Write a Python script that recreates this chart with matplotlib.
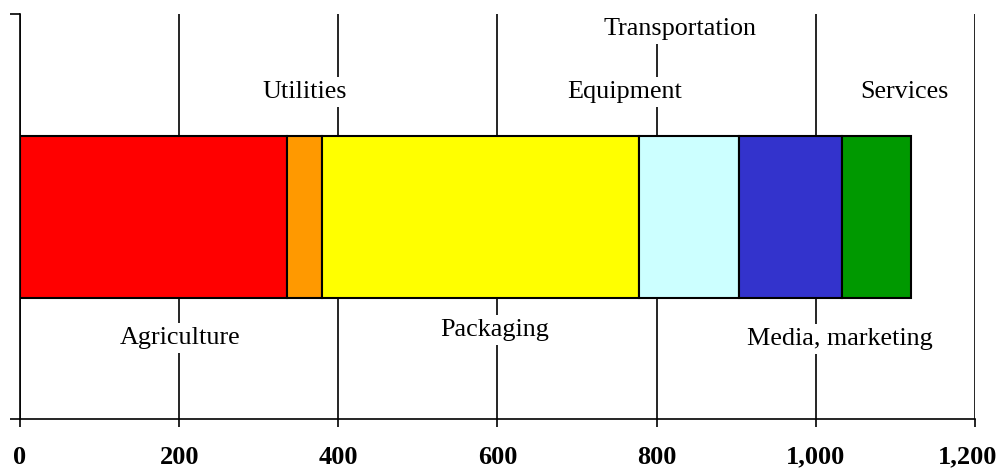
import matplotlib.pyplot as plt
import matplotlib.transforms as mtransforms
from matplotlib.ticker import FuncFormatter

# Segment values for the stacked bar (left to right).
segments = ['Agriculture', 'Utilities', 'Packaging', 'Equipment', 'Media, marketing', 'Services']
values = [335, 44, 399, 126, 129, 87]
colors = ['#FF0000', '#FF9900', '#FFFF00', '#CCFFFF', '#3333CC', '#009900']

# Text labels and where they sit (x in data units, y as axes fraction).
labels = ['Agriculture', 'Utilities', 'Packaging', 'Equipment', 'Transportation', 'Media, marketing', 'Services']
label_x = [201, 358, 596, 760, 829, 1030, 1112]
label_y = [0.200, 0.807, 0.220, 0.807, 0.963, 0.198, 0.807]

xticks = [0, 200, 400, 600, 800, 1000, 1200]

plt.rcParams['font.family'] = ['Liberation Serif', 'DejaVu Serif']

fig = plt.figure(figsize=(10.02, 4.71), dpi=100)
ax = fig.add_axes([0.02, 0.11, 0.953, 0.86])

# Stacked horizontal bar.
left = 0
for val, col in zip(values, colors):
    ax.barh(0.5, val, left=left, height=0.4, color=col, edgecolor='black', linewidth=1.5, zorder=3)
    left += val

# Labels with white boxes covering the gridlines.
for txt, lx, ly in zip(labels, label_x, label_y):
    ax.text(lx, ly, txt, transform=ax.get_xaxis_transform(), ha='center', va='center',
            fontsize=18.8, zorder=4,
            bbox=dict(facecolor='white', edgecolor='none', pad=3))

ax.set_xlim(0, 1200)
ax.set_ylim(0, 1)
ax.set_xticks(xticks)
ax.xaxis.set_major_formatter(FuncFormatter(lambda v, p: f'{int(v):,}'))
ax.set_yticks([0, 1])
ax.set_yticklabels([])
ax.tick_params(axis='x', direction='out', length=6, width=1.2, pad=13, labelsize=19)
ax.tick_params(axis='y', direction='out', length=7, width=1.2)
for lab in ax.get_xticklabels():
    lab.set_fontweight('bold')
# nudge the last tick label left so it stays inside the figure
last = ax.get_xticklabels()[-1]
last.set_transform(last.get_transform() + mtransforms.ScaledTranslation(-5 / 72, 0, fig.dpi_scale_trans))

ax.grid(axis='x', color='black', linewidth=1.2, zorder=1)
ax.set_axisbelow(True)
ax.spines['top'].set_visible(False)
ax.spines['right'].set_visible(False)
ax.spines['left'].set_linewidth(1.2)
ax.spines['bottom'].set_linewidth(1.2)

plt.savefig('out.png', dpi=100)
plt.close()
